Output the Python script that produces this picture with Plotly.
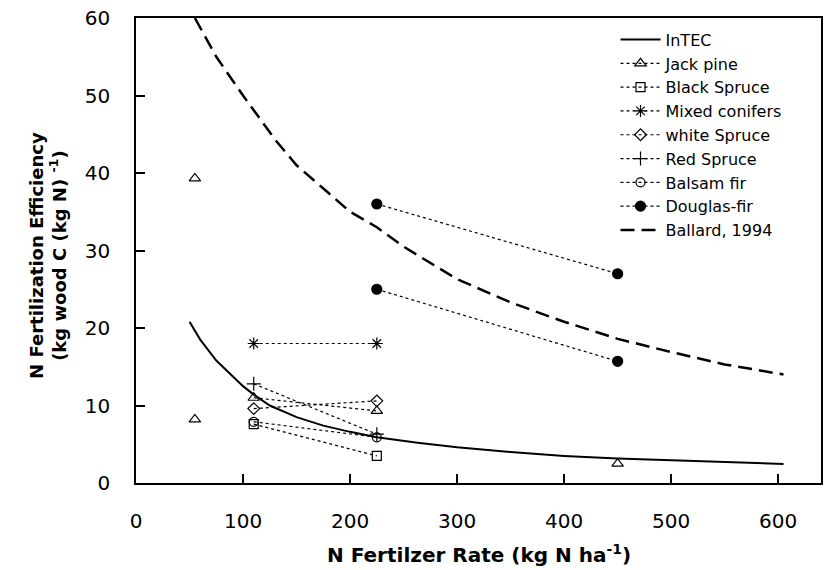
import plotly.graph_objects as go

# ---- data ----
intec_x = [50, 60, 75, 100, 110, 125, 150, 175, 200, 225, 263, 300, 350, 400, 450, 500, 550, 605]
intec_y = [20.8, 18.5, 15.8, 12.5, 11.4, 10.0, 8.5, 7.4, 6.6, 5.9, 5.2, 4.6, 4.0, 3.5, 3.15, 2.9, 2.7, 2.45]

jack_x = [55, None, 55, None, 110, 225, None, 450]
jack_y = [39.3, None, 8.2, None, 11.0, 9.3, None, 2.5]

black_x = [110, 225]
black_y = [7.6, 3.5]

mixed_x = [110, 225]
mixed_y = [18.0, 18.0]

white_x = [110, 225]
white_y = [9.6, 10.6]

red_x = [110, 225]
red_y = [12.8, 6.3]

balsam_x = [110, 225]
balsam_y = [7.9, 5.9]

douglas_x = [225, 450, None, 225, 450]
douglas_y = [36.0, 27.0, None, 25.0, 15.7]

ballard_x = [55, 75, 100, 130, 150, 175, 200, 225, 250, 300, 350, 400, 450, 500, 550, 605]
ballard_y = [60, 55, 50, 44.3, 41, 38, 35, 33, 30.5, 26.3, 23.3, 20.8, 18.6, 16.9, 15.3, 14.0]

x_ticks = [0, 100, 200, 300, 400, 500, 600]
y_ticks = [0, 10, 20, 30, 40, 50, 60]

FONT = "DejaVu Sans"

fig = go.Figure()

fig.add_trace(go.Scatter(x=intec_x, y=intec_y, mode="lines", name="InTEC",
                         line=dict(color="black", width=2)))

def pts(x, y, name, symbol, size=9, color="black"):
    fig.add_trace(go.Scatter(
        x=x, y=y, mode="lines+markers", name=name,
        line=dict(color="black", width=1.2, dash="dot"),
        marker=dict(symbol=symbol, size=size, color=color,
                    line=dict(color="black", width=1.2)),
    ))

pts(jack_x, jack_y, "Jack pine", "triangle-up-open", 10)
pts(black_x, black_y, "Black Spruce", "square-open", 9)
pts(mixed_x, mixed_y, "Mixed conifers", "asterisk-open", 10)
pts(white_x, white_y, "white Spruce", "diamond-open", 9)
pts(red_x, red_y, "Red Spruce", "cross-thin-open", 10)
pts(balsam_x, balsam_y, "Balsam fir", "circle-open", 9)
pts(douglas_x, douglas_y, "Douglas-fir", "circle", 10)

fig.add_trace(go.Scatter(x=ballard_x, y=ballard_y, mode="lines", name="Ballard, 1994",
                         line=dict(color="black", width=2.5, dash="14px,7px")))

axis_common = dict(
    showgrid=False, zeroline=False, showline=True, linecolor="black", linewidth=1.5,
    mirror=True, ticks="inside", ticklen=9, tickwidth=1.5, tickcolor="black",
    tickfont=dict(family=FONT, size=20, color="black"),
)

fig.update_xaxes(range=[0, 640], tickvals=x_ticks, ticklabelstandoff=19, **axis_common)
fig.update_yaxes(range=[0, 60], tickvals=y_ticks, ticklabelstandoff=20, **axis_common)

fig.update_layout(
    width=826, height=570,
    margin=dict(l=136, r=3, t=18, b=87),
    plot_bgcolor="white", paper_bgcolor="white",
    font=dict(family=FONT, color="black"),
    showlegend=True,
    legend=dict(x=0.70, y=0.99, xanchor="left", yanchor="top",
                bgcolor="rgba(0,0,0,0)", font=dict(family=FONT, size=16, color="black"),
                tracegroupgap=0, itemwidth=40),
    annotations=[
        dict(text="<b>N Fertilzer Rate (kg N ha<sup>-1</sup>)</b>", xref="paper", yref="paper",
             x=0.5, y=-0.153, xanchor="center", yanchor="middle", showarrow=False,
             font=dict(family=FONT, size=20, color="black")),
        dict(text="<b>N Fertilization Efficiency<br>(kg wood C (kg N) <sup>-1</sup>)</b>",
             xref="paper", yref="paper", x=(47.5 - 136) / 687, y=0.49,
             xanchor="center", yanchor="middle", textangle=-90, showarrow=False,
             font=dict(family=FONT, size=18, color="black")),
    ],
)

fig.write_html("out.html")
